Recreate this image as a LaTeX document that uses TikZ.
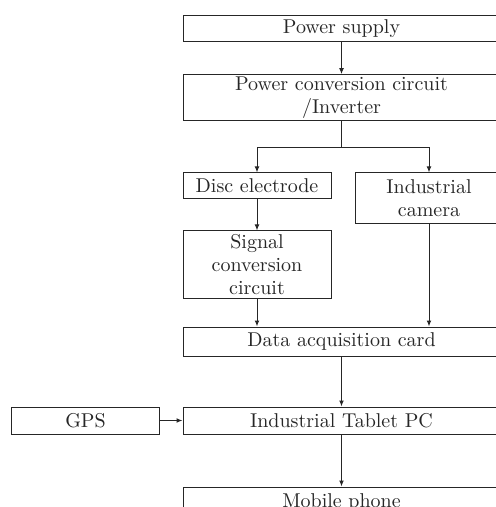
\documentclass[tikz,border=0pt]{standalone}
\usepackage{tikz}
\usetikzlibrary{arrows.meta}

\begin{document}
\begin{tikzpicture}[x=0.5pt, y=-0.5pt,
    box/.style={rectangle, draw=black!85, line width=0.5pt, align=center, inner sep=1pt, text=black!85, font=\fontsize{10}{11.5}\selectfont},
    wide/.style={box, minimum width=158.5pt},
    narrow/.style={box, minimum width=74pt},
    arr/.style={-{Latex[length=3pt, width=2.4pt]}, draw=black!85, line width=0.5pt}]
            \useasboundingbox (0,0) rectangle (496,507);
            \clip (0,0) rectangle (496,507);
            % Nodes
            \node[wide, minimum height=13pt] (ps) at (341.5,29) {Power supply};
            \node[wide, minimum height=22.5pt] (pcc) at (341.5,97.5) {Power conversion circuit\\/Inverter};
            \node[narrow, minimum height=13pt] (disc) at (257,186) {Disc electrode};
            \node[narrow, minimum height=25.5pt] (cam) at (429,198.5) {Industrial\\camera};
            \node[narrow, minimum height=33.5pt] (sig) at (257,264.5) {Signal\\conversion\\circuit};
            \node[wide, minimum height=14.5pt] (daq) at (341.5,341.5) {Data acquisition card};
            \node[wide, minimum height=13.5pt] (tab) at (341.5,420.5) {Industrial Tablet PC};
            \node[narrow, minimum height=13.5pt] (gps) at (85.5,420.5) {GPS};
            \node[wide, minimum height=15.5pt] (mob) at (341.5,502.5) {Mobile phone};
            \coordinate (split) at (341.5,148);

            % Edges
            \draw[arr] (ps) -- (pcc);
            \draw[draw=black!85, line width=0.5pt] (pcc) -- (split);
            \draw[arr] (split) -| (disc.north);
            \draw[arr] (split) -| (cam.north);
            \draw[arr] (disc) -- (sig);
            \draw[arr] (sig.south) -- (sig.south |- daq.north);
            \draw[arr] (cam.south) -- (cam.south |- daq.north);
            \draw[arr] (daq) -- (tab);
            \draw[arr] (gps) -- (tab);
            \draw[arr] (tab) -- (mob);
        \end{tikzpicture}
\end{document}
